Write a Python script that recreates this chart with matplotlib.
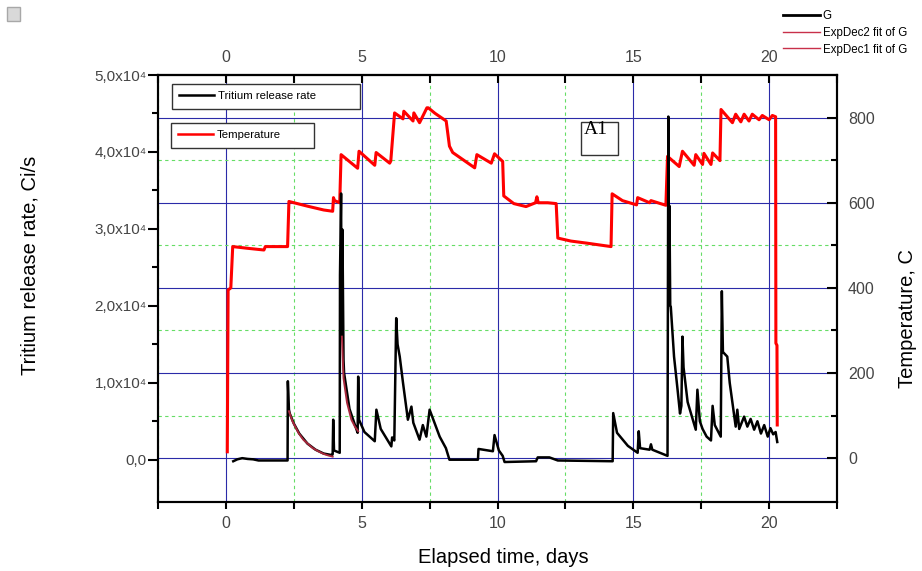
import numpy as np
import matplotlib.pyplot as plt
from matplotlib.lines import Line2D
from matplotlib.patches import Rectangle
from matplotlib.ticker import MultipleLocator, FixedLocator, FuncFormatter

plt.rcParams['font.family'] = ['Liberation Sans', 'DejaVu Sans']

# Temperature, C (right axis)
temp_t = [0.05, 0.08, 0.18, 0.25, 0.8, 1.4, 1.45, 2.27, 2.32, 3.0, 3.6, 3.93, 3.96, 4.0,
          4.19, 4.24, 4.85, 4.9, 5.48, 5.53, 6.03, 6.07, 6.21, 6.52, 6.55, 6.89, 6.92,
          7.13, 7.4, 7.45, 7.7, 8.11, 8.23, 8.35, 9.16, 9.24, 9.77, 9.89, 10.19, 10.23,
          10.6, 11.05, 11.4, 11.45, 11.5, 11.85, 12.16, 12.22, 12.7, 13.3, 14.18, 14.22,
          14.6, 15.12, 15.16, 15.6, 15.65, 16.2, 16.26, 16.69, 16.81, 17.24, 17.3, 17.55,
          17.6, 17.86, 17.92, 18.19, 18.23, 18.65, 18.77, 18.96, 19.08, 19.26, 19.38,
          19.63, 19.75, 20.0, 20.12, 20.24, 20.25, 20.29, 20.3]
temp_c = [15, 395, 400, 497, 493, 489, 497, 497, 603, 592, 583, 580, 612, 605,
          600, 713, 681, 721, 688, 718, 693, 698, 811, 797, 815, 792, 811,
          788, 823, 823, 810, 792, 733, 718, 682, 713, 693, 715, 697, 616,
          598, 591, 600, 614, 600, 600, 598, 517, 510, 505, 497, 621,
          605, 595, 612, 600, 605, 594, 709, 685, 721, 688, 713, 690,
          716, 690, 717, 699, 819, 788, 808, 790, 808, 792, 808,
          795, 805, 795, 805, 802, 270, 265, 78]

# Tritium release rate, Ci/s (left axis)
rel_t = [0.27, 0.42, 0.6, 0.8, 1.0, 1.2, 2.27, 2.28, 2.32, 2.35, 2.5, 2.7, 3.0, 3.3,
         3.6, 3.9, 3.93, 3.95, 3.98, 4.19, 4.2, 4.24, 4.26, 4.29, 4.33, 4.35, 4.55,
         4.81, 4.85, 4.87, 4.9, 5.1, 5.48, 5.54, 5.7, 6.09, 6.12, 6.2, 6.27, 6.32,
         6.4, 6.52, 6.7, 6.83, 6.9, 7.13, 7.25, 7.38, 7.5, 7.87, 8.1, 8.23, 9.28,
         9.3, 9.83, 9.89, 10.05, 10.19, 10.26, 11.42, 11.48, 11.91, 12.22, 14.24,
         14.26, 14.4, 14.8, 15.16, 15.2, 15.25, 15.6, 15.65, 15.7, 16.26, 16.29,
         16.31, 16.33, 16.36, 16.38, 16.5, 16.63, 16.72, 16.77, 16.81, 16.85, 17.0,
         17.3, 17.36, 17.45, 17.55, 17.7, 17.86, 17.92, 18.0, 18.22, 18.26, 18.3,
         18.46, 18.55, 18.77, 18.83, 18.9, 19.08, 19.2, 19.32, 19.45, 19.57, 19.7,
         19.82, 19.95, 20.05, 20.15, 20.24, 20.3]
rel_r = [-200, 50, 200, 100, 50, -100, -100, 10200, 6500, 6000, 4700, 3400, 2100, 1300,
         800, 600, 700, 5200, 1200, 900, 24000, 34600, 16000, 29900, 13000, 11300, 6600,
         3900, 3500, 10800, 5200, 3600, 2400, 6500, 4000, 1730, 2900, 2500, 18400, 15000,
         13400, 10000, 5200, 6900, 4800, 2600, 4500, 3000, 6500, 3000, 1500, 0, 0,
         1400, 1100, 3200, 1200, 500, -300, -200, 300, 300, -100, -200,
         6060, 3500, 1800, 900, 3700, 1500, 1300, 2000, 1300, 500, 44600,
         25000, 33000, 20000, 19900, 13400, 9100, 6000, 7000, 16000, 12000, 7500,
         3900, 9100, 5000, 4000, 3000, 2500, 7000, 4500, 3000, 21900, 14000,
         13400, 10000, 4300, 6500, 4000, 5600, 4300, 5300, 3900, 5000, 3400,
         4500, 3000, 4100, 3300, 3600, 2300]

# exponential decay fits
fit1_t = [2.32, 2.45, 2.67, 2.85, 3.04, 3.2, 3.4, 3.6, 3.77, 3.93]
fit1_r = [6300, 5000, 3500, 2600, 2000, 1500, 1100, 750, 550, 400]
fit2_t = [4.27, 4.33, 4.46, 4.62, 4.75, 4.87]
fit2_r = [16000, 10600, 7400, 5200, 4300, 3700]

x_major = [0, 5, 10, 15, 20]
x_minor = [-2.5, 2.5, 7.5, 12.5, 17.5, 22.5]

tick_grey = '#454545'
grid_blue = '#2B2BA8'
grid_green = '#66DD66'
fit_color = '#A8283C'

fig = plt.figure(figsize=(9.22, 5.71), dpi=100)
ax = fig.add_axes([0.1714, 0.1208, 0.7364, 0.7478])
ax2 = ax.twinx()
ax.set_zorder(3)
ax2.set_zorder(1)
ax.patch.set_visible(False)
ax2.patch.set_visible(True)
ax2.patch.set_facecolor('white')

# temperature + grid on the lower axes
ax2.plot(temp_t, temp_c, color='#FF0000', lw=2.2)
ax2.set_ylim(-103, 900)
ax2.yaxis.set_major_locator(MultipleLocator(200))
ax2.yaxis.set_minor_locator(FixedLocator([100, 300, 500, 700]))
ax2.xaxis.set_visible(True)
ax2.tick_params(axis='x', which='both', bottom=False, top=False,
                labelbottom=False, labeltop=False)
ax2.grid(which='major', axis='both', color=grid_blue, lw=0.8)
ax2.grid(which='minor', axis='both', color=grid_green, lw=0.8, ls=(0, (3, 3)))
ax2.tick_params(axis='y', which='major', direction='in', length=7, width=1.5,
                labelsize=11.5, labelcolor=tick_grey, pad=8)
ax2.tick_params(axis='y', which='minor', direction='in', length=4, width=1.5)
ax2.set_ylabel('Temperature, C', fontsize=14.5, va='center', rotation=90)
ax2.yaxis.set_label_coords((908 - 158) / 679, (502 - 318) / 427)

# release rate on top
ax.plot(rel_t, rel_r, color='black', lw=1.8)
ax.plot(fit1_t, fit1_r, color=fit_color, lw=1.4)
ax.plot(fit2_t, fit2_r, color=fit_color, lw=1.4)
ax.set_xlim(-2.5, 22.5)
ax.set_ylim(-5500, 50000)
ax.set_xticks(x_major)
ax.xaxis.set_minor_locator(FixedLocator(x_minor))
ax.set_yticks(np.arange(0, 50001, 10000))
ax.yaxis.set_minor_locator(FixedLocator(np.arange(5000, 50000, 10000)))


def left_fmt(v, pos):
    if v == 0:
        return '0,0'
    return ('%.1f' % (v / 1e4)).replace('.', ',') + 'x10\u2074'


ax.yaxis.set_major_formatter(FuncFormatter(left_fmt))
ax.tick_params(axis='y', which='major', direction='out', length=7, width=1.5,
               labelsize=11, labelcolor=tick_grey, pad=1)
ax.tick_params(axis='y', which='minor', direction='out', length=4, width=1.5)
ax.tick_params(axis='x', which='major', direction='out', length=5, width=1.5,
               labelsize=11.5, labelcolor=tick_grey, pad=5)
ax.tick_params(axis='x', which='minor', direction='out', length=5, width=1.5)
for sp in ax.spines.values():
    sp.set_linewidth(1.5)
for sp in ax2.spines.values():
    sp.set_linewidth(1.5)

top = ax.secondary_xaxis('top')
top.set_xticks(x_major)
top.xaxis.set_minor_locator(FixedLocator(x_minor))
top.tick_params(axis='x', which='major', direction='in', length=6, width=1.5,
                labelsize=11.5, labelcolor=tick_grey, pad=7)
top.tick_params(axis='x', which='minor', direction='in', length=6, width=1.5)
top.spines['top'].set_linewidth(1.5)

ax.set_xlabel('Elapsed time, days', fontsize=14.5, va='center')
ax.xaxis.set_label_coords((503 - 158) / 679, (502 - 557) / 427)
ax.set_ylabel('Tritium release rate, Ci/s', fontsize=14.5, va='center')
ax.yaxis.set_label_coords((30 - 158) / 679, (502 - 265) / 427)

# legends inside the plot
leg_kw = dict(loc='upper left', mode='expand', borderaxespad=0, fancybox=False,
              edgecolor='#333333', framealpha=1, fontsize=8.2, handlelength=3.0,
              handletextpad=0.35, borderpad=0.65)
leg1 = ax.legend([Line2D([], [], color='black', lw=1.8)], ['Tritium release rate'],
                 bbox_to_anchor=(0.0206, 0.979, 0.277, 0.0), **leg_kw)
leg1.get_frame().set_linewidth(1.0)
ax.add_artist(leg1)
leg2 = ax.legend([Line2D([], [], color='#FF0000', lw=1.8)], ['Temperature'],
                 bbox_to_anchor=(0.019, 0.8876, 0.2106, 0.0), **leg_kw)
leg2.get_frame().set_linewidth(1.0)

# A1 label box
ax.add_patch(Rectangle((0.623, 0.8126), 0.0545, 0.0773, transform=ax.transAxes,
                       fill=False, edgecolor='#333333', lw=1.0))
ax.text(0.6274, 0.861, 'A1', family=['Liberation Serif', 'DejaVu Serif'],
        fontsize=14, va='baseline', transform=ax.transAxes)

# legend outside, top right
fig.legend(handles=[Line2D([], [], color='black', lw=2.0),
                    Line2D([], [], color='#C8304A', lw=1.0),
                    Line2D([], [], color='#C8304A', lw=1.0)],
           labels=['G', 'ExpDec2 fit of G', 'ExpDec1 fit of G'],
           loc='upper left', bbox_to_anchor=(0.849, 0.982), frameon=False,
           fontsize=8.3, handlelength=3.2, handletextpad=0.25, labelspacing=0.4,
           borderaxespad=0, borderpad=0)

# small grey icon at the top-left corner
fig.add_artist(Rectangle((7 / 922, 1 - 21 / 571), 13 / 922, 14 / 571,
                         transform=fig.transFigure, facecolor='#D9D9D9',
                         edgecolor='#A8A8A8', lw=1.0))

fig.savefig('out.png', dpi=100)
